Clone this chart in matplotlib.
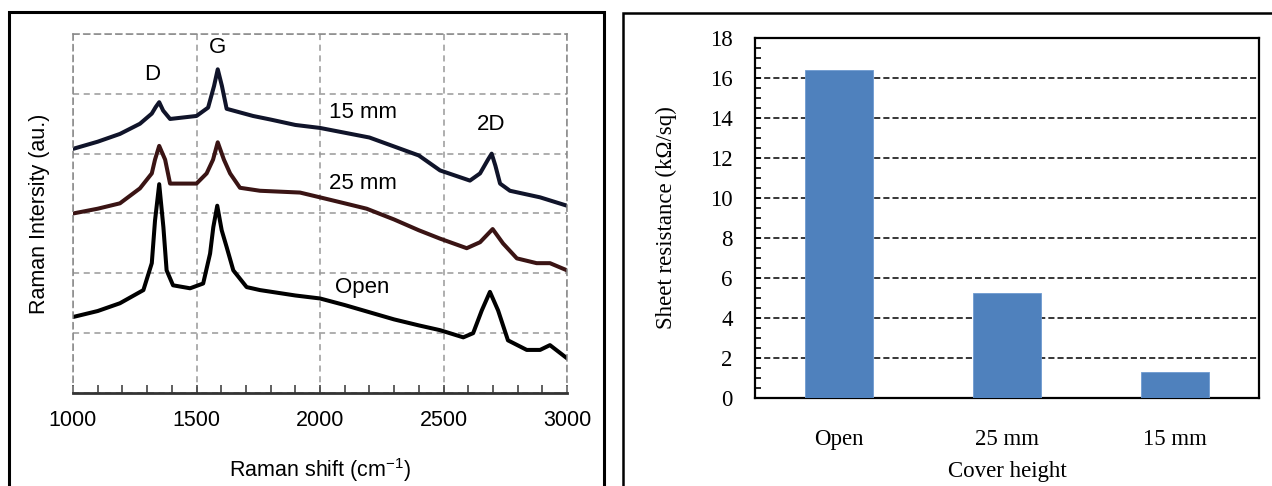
import numpy as np
import matplotlib
matplotlib.use("Agg")
import matplotlib.pyplot as plt
from matplotlib.patches import Rectangle
from matplotlib.ticker import MultipleLocator

# --- Raman spectra (arbitrary units) ---
shift_15 = [1000, 1100, 1190, 1271, 1319, 1335, 1349, 1365, 1393, 1500, 1547, 1571,
            1586, 1603, 1622, 1729, 1800, 1900, 2000, 2100, 2200, 2300, 2400, 2486,
            2607, 2648, 2680, 2695, 2710, 2729, 2769, 2891, 3000]
int_15 = [4.08, 4.20, 4.33, 4.50, 4.67, 4.78, 4.86, 4.72, 4.58, 4.63, 4.77, 5.13,
          5.41, 5.13, 4.75, 4.63, 4.57, 4.48, 4.43, 4.35, 4.27, 4.12, 3.97, 3.72,
          3.55, 3.67, 3.90, 4.00, 3.80, 3.50, 3.38, 3.27, 3.13]

shift_25 = [1000, 1100, 1190, 1271, 1319, 1332, 1349, 1373, 1393, 1500, 1541, 1567,
            1586, 1611, 1636, 1676, 1757, 1919, 2000, 2100, 2189, 2300, 2400, 2486,
            2594, 2648, 2699, 2741, 2797, 2877, 2931, 3000]
int_25 = [3.00, 3.08, 3.17, 3.42, 3.67, 3.90, 4.13, 3.90, 3.50, 3.50, 3.67, 3.90,
          4.19, 3.90, 3.67, 3.43, 3.38, 3.35, 3.27, 3.17, 3.08, 2.90, 2.72, 2.58,
          2.42, 2.52, 2.74, 2.50, 2.25, 2.17, 2.17, 2.05]

shift_open = [1000, 1100, 1190, 1285, 1319, 1332, 1349, 1366, 1379, 1405, 1474, 1527,
              1555, 1568, 1584, 1602, 1622, 1649, 1703, 1757, 1900, 2000, 2100, 2200,
              2300, 2400, 2486, 2580, 2620, 2655, 2688, 2721, 2761, 2837, 2891, 2931, 3000]
int_open = [1.27, 1.37, 1.50, 1.72, 2.17, 2.88, 3.49, 2.77, 2.05, 1.80, 1.75, 1.83,
            2.33, 2.77, 3.13, 2.72, 2.44, 2.05, 1.77, 1.72, 1.63, 1.58, 1.47, 1.35,
            1.23, 1.13, 1.05, 0.93, 1.00, 1.38, 1.69, 1.38, 0.88, 0.72, 0.72, 0.80, 0.58]

# --- Sheet resistance ---
cover = ["Open", "25 mm", "15 mm"]
resistance = [16.4, 5.25, 1.3]

fig = plt.figure(figsize=(12.72, 4.86), dpi=100)

# panel frames
fig.add_artist(Rectangle((9 / 1272, -0.05), 595 / 1272, 1.05 - 12 / 486,
                         transform=fig.transFigure, fill=False, lw=2.2,
                         ec="black", clip_on=False))
fig.add_artist(Rectangle((623 / 1272, -0.05), 700 / 1272, 1.05 - 13 / 486,
                         transform=fig.transFigure, fill=False, lw=1.8,
                         ec="black", clip_on=False))

# --- left: Raman ---
sans = "Liberation Sans"
ax1 = fig.add_axes([73 / 1272, 93 / 486, 494 / 1272, 359 / 486])
line_kw = dict(lw=2.9, solid_joinstyle="round", solid_capstyle="round")
ax1.plot(shift_15, int_15, color="#10142a", **line_kw)
ax1.plot(shift_25, int_25, color="#3a1414", **line_kw)
ax1.plot(shift_open, int_open, color="black", **line_kw)
ax1.set_xlim(1000, 3000)
ax1.set_ylim(0, 6)
ax1.xaxis.set_major_locator(MultipleLocator(500))
ax1.xaxis.set_minor_locator(MultipleLocator(100))
ax1.yaxis.set_major_locator(MultipleLocator(1))
ax1.set_yticklabels([])
ax1.tick_params(axis="y", length=0)
ax1.tick_params(axis="x", which="both", direction="in", length=6, width=1.2,
                color="#444444", pad=12, labelsize=15.5)
for lab in ax1.get_xticklabels():
    lab.set_family(sans)
ax1.grid(True, which="major", color="#999999", ls=(0, (4, 3)), lw=1.1)
for side in ["top", "left", "right"]:
    ax1.spines[side].set_linestyle((0, (4, 3)))
    ax1.spines[side].set_color("#888888")
    ax1.spines[side].set_linewidth(1.1)
ax1.spines["bottom"].set_linewidth(2)
ax1.spines["bottom"].set_color("#333333")
ax1.set_xlabel("Raman shift (cm$^{\\mathregular{-1}}$)", family=sans,
               fontsize=15.5, labelpad=18)
ax1.set_ylabel("Raman Intersity (au.)", family=sans, fontsize=15.5, labelpad=13)

kw = dict(family=sans, fontsize=16, ha="center", va="center")
ax1.text(1320, 5.32, "D", **kw)
ax1.text(1583, 5.77, "G", **kw)
ax1.text(2174, 4.68, "15 mm", **kw)
ax1.text(2174, 3.50, "25 mm", **kw)
ax1.text(2692, 4.48, "2D", **kw)
ax1.text(2170, 1.77, "Open", **kw)

# --- right: sheet resistance ---
serif = "Liberation Serif"
ax2 = fig.add_axes([755 / 1272, 88 / 486, 504 / 1272, 360 / 486])
ax2.bar(np.arange(len(cover)), resistance, width=0.4, color="#4f81bd",
        edgecolor="#6f9bd0", lw=0.6, zorder=3)
ax2.set_xlim(-0.5, len(cover) - 0.5)
ax2.set_ylim(0, 18)
ax2.set_xticks(np.arange(len(cover)))
ax2.set_xticklabels(cover, family=serif, fontsize=16.5)
ax2.tick_params(axis="x", length=0, pad=22)
ax2.yaxis.set_major_locator(MultipleLocator(2))
ax2.yaxis.set_minor_locator(MultipleLocator(0.5))
ax2.tick_params(axis="y", which="both", direction="in", length=4, width=1.2,
                pad=16, labelsize=16.5)
for lab in ax2.get_yticklabels():
    lab.set_family(serif)
for y in range(2, 18, 2):
    ax2.axhline(y, color="black", ls=(0, (4, 2)), lw=1.1, zorder=1)
for s in ax2.spines.values():
    s.set_linewidth(1.6)
ax2.set_xlabel("Cover height", family=serif, fontsize=16.5, labelpad=8)
ax2.set_ylabel("Sheet resistance (k\u03a9/sq)", family=serif, fontsize=16.5, labelpad=24)

fig.savefig("out.png", dpi=100)
